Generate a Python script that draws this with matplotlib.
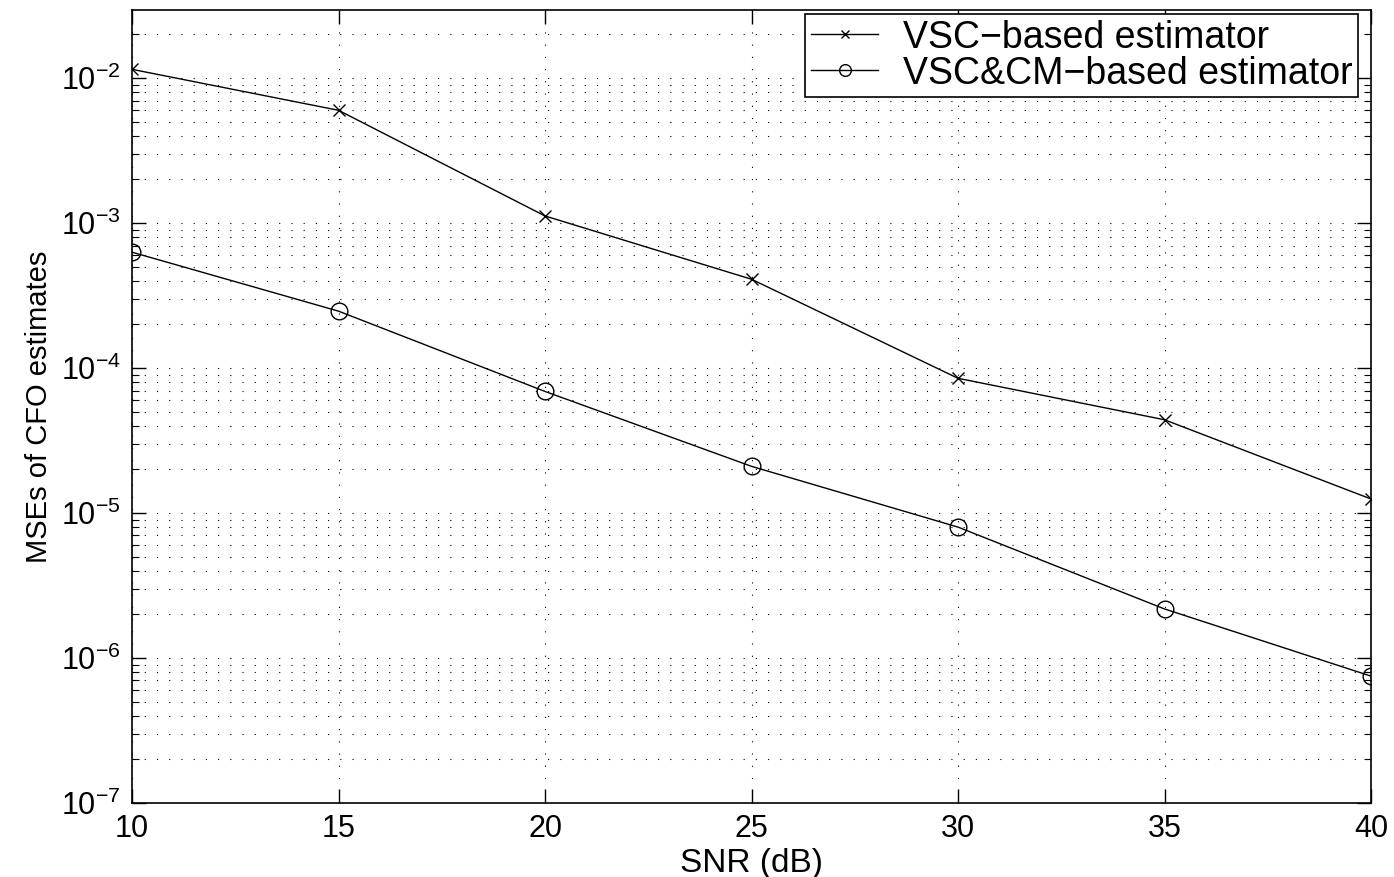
import numpy as np
import matplotlib.pyplot as plt

plt.rcParams['font.family'] = ['Liberation Sans', 'DejaVu Sans']

snr = [10, 15, 20, 25, 30, 35, 40]
mse_vsc = [1.15e-2, 6.0e-3, 1.12e-3, 4.1e-4, 8.5e-5, 4.4e-5, 1.25e-5]
mse_vsc_cm = [6.3e-4, 2.47e-4, 6.9e-5, 2.1e-5, 8.0e-6, 2.18e-6, 7.5e-7]

fig = plt.figure(figsize=(13.94, 8.77), dpi=100)
ax = fig.add_axes([0.0947, 0.0844, 0.8888, 0.9042])

ax.semilogy(snr, mse_vsc, '-x', color='black', lw=1.0, ms=8, mew=1.0,
            label='VSC\u2212based estimator')
ax.semilogy(snr, mse_vsc_cm, '-o', color='black', lw=1.0, ms=12, mew=1.0,
            mfc='none', label='VSC&CM\u2212based estimator')

ax.set_xlim(10, 40)
ax.set_ylim(1e-7, 10**-1.53)
ax.set_xticks(snr)
ax.set_yticks([1e-7, 1e-6, 1e-5, 1e-4, 1e-3, 1e-2])

ax.grid(True, which='major', axis='both', linestyle=(0, (1, 10)), color='black', lw=0.8)
ax.grid(True, which='minor', axis='y', linestyle=(0, (1, 10)), color='black', lw=0.8)

ax.tick_params(which='both', direction='in', top=True, right=True)
ax.tick_params(which='major', length=10, width=1, labelsize=22, pad=8)
ax.tick_params(which='minor', length=5, width=0.8)
ax.tick_params(axis='x', which='minor', bottom=False, top=False)
for s in ax.spines.values():
    s.set_linewidth(1.2)

ax.set_xlabel('SNR (dB)', fontsize=24, labelpad=3)
ax.set_ylabel('MSEs of CFO estimates', fontsize=21, labelpad=6)

leg = ax.legend(loc='upper right', bbox_to_anchor=(0.9895, 0.995), fontsize=27,
                fancybox=False, edgecolor='black', framealpha=1,
                handlelength=1.8, borderpad=0.15, labelspacing=0.0,
                handletextpad=0.65, markerscale=0.7, borderaxespad=0)
leg.get_frame().set_linewidth(1.2)

fig.savefig('out.png', dpi=100)
